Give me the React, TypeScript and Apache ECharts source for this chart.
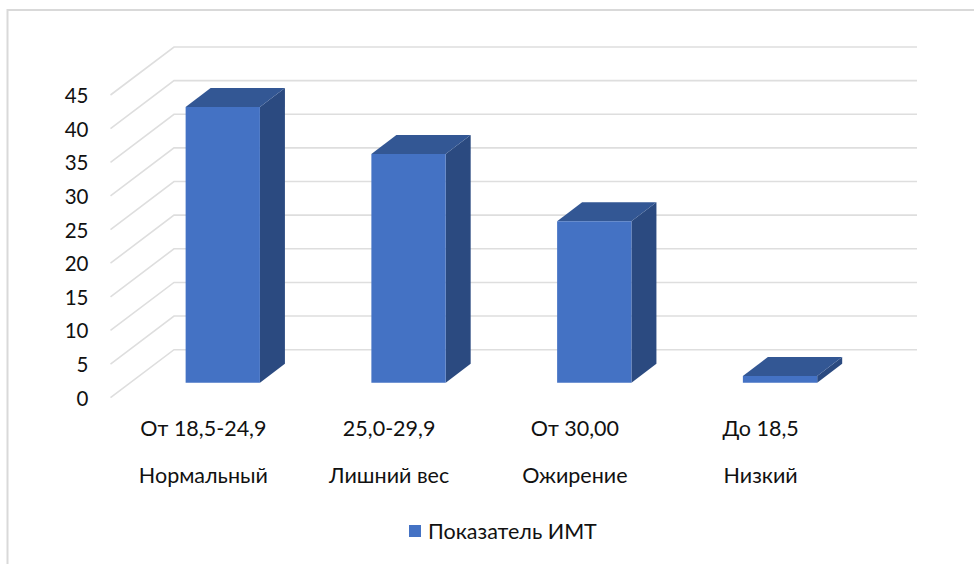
import React, { useEffect, useRef } from "react";
import * as echarts from "echarts";

const seriesName = "Показатель ИМТ";
const ranges = ["От 18,5-24,9", "25,0-29,9", "От 30,00", "До 18,5"];
const groups = ["Нормальный", "Лишний вес", "Ожирение", "Низкий"];
const values = [41, 34, 24, 1];
const gridTicks = [0, 5, 10, 15, 20, 25, 30, 35, 40, 45];

const FONT = "Lato, 'Open Sans', sans-serif";
const TEXT = "#111111";
const GRID_COLOR = "#dedede";
const FRONT = "#4472C4";
const TOP = "#335794";
const SIDE = "#2B4A80";

// oblique projection of the chart's floor and of each bar
const FLOOR_DX = 63.5;
const FLOOR_DY = -48;
const BAR_DX = 25;
const BAR_DY = -19;
const BAR_FRONT_DX = 19.4;
const BAR_FRONT_DY = -15;
const BAR_WIDTH_RATIO = 0.4;

export default function App() {
  const ref = useRef<HTMLDivElement>(null);

  useEffect(() => {
    document.body.style.margin = "0";
    const chart = echarts.init(ref.current!, undefined, { renderer: "svg" });
    chart.setOption({
      animation: false,
      backgroundColor: "#ffffff",
      legend: {
        data: [seriesName],
        left: 404,
        top: 515,
        itemWidth: 12,
        itemHeight: 12,
        icon: "rect",
        textStyle: { fontFamily: FONT, fontSize: 21.5, color: TEXT, padding: [0, 0, 0, 2] },
      },
      grid: { left: 110.5, right: 120.5, top: 95, bottom: 166.3 },
      xAxis: {
        type: "category",
        data: ranges.map((r, i) => `${r}\n${groups[i]}`),
        axisLine: { show: false },
        axisTick: { show: false },
        axisLabel: {
          interval: 0,
          margin: 7,
          lineHeight: 47,
          fontFamily: FONT,
          fontSize: 21.5,
          color: TEXT,
        },
      },
      yAxis: {
        type: "value",
        min: 0,
        max: 45,
        interval: 5,
        splitLine: { show: false },
        axisLine: { show: false },
        axisTick: { show: false },
        axisLabel: { margin: 22, fontFamily: FONT, fontSize: 20.5, color: TEXT },
      },
      graphic: [
        {
          type: "polyline",
          silent: true,
          shape: { points: [[7.5, 564], [7.5, 10], [974, 10]] },
          style: { stroke: "#d9d9d9", lineWidth: 2, fill: "none" },
        },
      ],
      series: [
        {
          type: "custom",
          name: "grid3d",
          silent: true,
          z: 1,
          data: gridTicks.map((v) => [0, v]),
          renderItem: (params: any, api: any) => {
            const y = api.coord([0, api.value(1)])[1];
            const cs = params.coordSys;
            const x0 = cs.x;
            const x1 = cs.x + FLOOR_DX;
            const x2 = cs.x + cs.width + FLOOR_DX;
            return {
              type: "polyline",
              shape: { points: [[x0, y], [x1, y + FLOOR_DY], [x2, y + FLOOR_DY]] },
              style: { stroke: GRID_COLOR, lineWidth: 1.6, fill: "none" },
            };
          },
        },
        {
          type: "custom",
          name: seriesName,
          z: 2,
          itemStyle: { color: FRONT },
          data: values.map((v, i) => [i, v]),
          renderItem: (_params: any, api: any) => {
            const i = api.value(0);
            const top = api.coord([i, api.value(1)]);
            const base = api.coord([i, 0]);
            const w = api.size([1, 0])[0] * BAR_WIDTH_RATIO;
            const l = top[0] - w / 2 + BAR_FRONT_DX;
            const r = l + w;
            const t = top[1] + BAR_FRONT_DY;
            const b = base[1] + BAR_FRONT_DY;
            const poly = (points: number[][], fill: string) => ({
              type: "polygon",
              shape: { points },
              style: { fill, stroke: "none" },
            });
            return {
              type: "group",
              children: [
                poly([[r, t], [r + BAR_DX, t + BAR_DY], [r + BAR_DX, b + BAR_DY], [r, b]], SIDE),
                poly([[l, t], [l + BAR_DX, t + BAR_DY], [r + BAR_DX, t + BAR_DY], [r, t]], TOP),
                poly([[l, t], [r, t], [r, b], [l, b]], FRONT),
              ],
            };
          },
        },
      ],
    });
    return () => chart.dispose();
  }, []);

  return <div ref={ref} style={{ position: "absolute", left: 0, top: 0, width: 974, height: 564 }} />;
}
